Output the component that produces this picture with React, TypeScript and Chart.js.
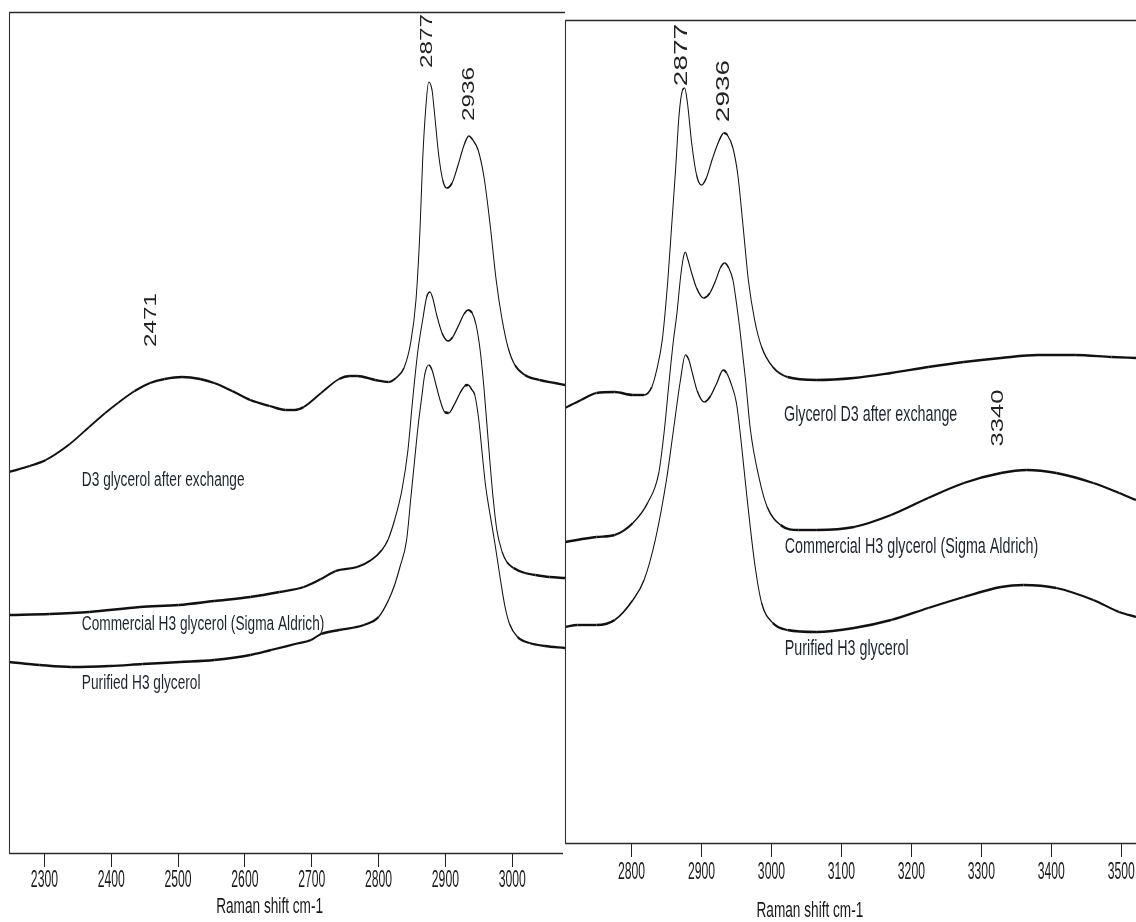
import React, { useEffect, useRef } from "react";
import { Chart, registerables } from "chart.js";

Chart.register(...registerables);

// ---------- DATA (Raman shift cm-1, intensity in arbitrary units) ----------
const leftTicks = [2300, 2400, 2500, 2600, 2700, 2800, 2900, 3000];
const rightTicks = [2800, 2900, 3000, 3100, 3200, 3300, 3400, 3500];

const leftD3: [number, number][] = [
  [2247, 381], [2278, 387], [2302, 393], [2338, 409], [2367, 426], [2391, 440], [2410, 450],
  [2435, 462], [2458, 470], [2480, 474], [2506, 476], [2533, 474], [2554, 470], [2581, 462],
  [2608, 453], [2637, 447], [2661, 443], [2675, 443], [2688, 446], [2714, 460], [2741, 474],
  [2757, 477], [2768, 477], [2795, 473], [2815, 471], [2826, 475], [2838, 485], [2848, 510],
  [2856, 553], [2862, 623], [2866, 693], [2871, 748], [2875, 771], [2880, 763], [2884, 738],
  [2890, 698], [2896, 673], [2902, 665], [2910, 670], [2919, 688], [2928, 708], [2935, 717],
  [2941, 713], [2949, 703], [2958, 675], [2967, 628], [2976, 573], [2985, 533], [2994, 505],
  [3004, 488], [3019, 478], [3041, 473], [3064, 470], [3079, 468],
];

const leftCommercial: [number, number][] = [
  [2247, 238], [2308, 239], [2367, 241], [2443, 246], [2501, 248], [2554, 252], [2608, 256],
  [2652, 261], [2688, 266], [2714, 274], [2736, 282], [2768, 286], [2789, 293], [2805, 303],
  [2814, 313], [2824, 333], [2835, 363], [2844, 403], [2851, 453], [2859, 503], [2866, 533],
  [2872, 556], [2877, 561], [2881, 555], [2887, 538], [2895, 520], [2904, 512], [2911, 516],
  [2920, 528], [2928, 539], [2934, 543], [2940, 540], [2946, 528], [2952, 503], [2958, 463],
  [2964, 413], [2971, 358], [2977, 323], [2985, 301], [2992, 291], [3002, 285], [3019, 280],
  [3035, 278], [3056, 276], [3079, 275],
];

const leftPurified: [number, number][] = [
  [2247, 191], [2293, 188], [2340, 186], [2398, 187], [2447, 189], [2503, 191], [2554, 193],
  [2608, 198], [2639, 203], [2675, 209], [2699, 213], [2714, 219], [2741, 223], [2778, 228],
  [2800, 236], [2815, 253], [2824, 268], [2832, 286], [2842, 313], [2848, 353], [2854, 393],
  [2859, 426], [2865, 458], [2869, 478], [2875, 488], [2880, 483], [2886, 468], [2892, 453],
  [2899, 441], [2905, 440], [2913, 448], [2922, 460], [2929, 467], [2934, 468], [2940, 463],
  [2944, 458], [2950, 433], [2955, 400], [2960, 368], [2964, 350], [2969, 330], [2974, 310],
  [2982, 275], [2989, 247], [2996, 229], [3008, 216], [3026, 210], [3049, 207], [3079, 205],
];

const rightD3: [number, number][] = [
  [2705, 435], [2728, 443], [2750, 450], [2776, 451], [2802, 448], [2818, 448], [2829, 456],
  [2836, 473], [2844, 503], [2852, 563], [2857, 613], [2863, 673], [2868, 728], [2873, 753],
  [2876, 755], [2880, 740], [2886, 700], [2893, 668], [2900, 658], [2907, 665], [2916, 685],
  [2925, 702], [2932, 710], [2937, 708], [2945, 695], [2952, 668], [2960, 613], [2967, 563],
  [2976, 523], [2986, 496], [3002, 476], [3023, 466], [3065, 463], [3118, 465], [3171, 470],
  [3224, 476], [3275, 481], [3328, 485], [3381, 488], [3434, 488], [3486, 486], [3521, 485],
];

const rightCommercial: [number, number][] = [
  [2705, 301], [2750, 306], [2776, 308], [2802, 320], [2823, 340], [2839, 370], [2847, 413],
  [2854, 463], [2860, 503], [2865, 530], [2870, 565], [2874, 585], [2877, 591], [2880, 585],
  [2886, 570], [2893, 555], [2903, 545], [2912, 550], [2920, 562], [2927, 575], [2933, 580],
  [2939, 575], [2945, 563], [2950, 540], [2955, 513], [2963, 463], [2970, 413], [2983, 363],
  [2994, 336], [3013, 318], [3039, 313], [3065, 313], [3118, 316], [3171, 328], [3224, 345],
  [3275, 360], [3328, 370], [3365, 373], [3407, 370], [3460, 360], [3497, 350], [3521, 343],
];

const rightPurified: [number, number][] = [
  [2705, 216], [2723, 218], [2750, 218], [2776, 223], [2802, 243], [2818, 263], [2834, 303],
  [2850, 363], [2860, 413], [2870, 463], [2877, 488], [2882, 483], [2887, 470], [2894, 452],
  [2904, 441], [2913, 447], [2922, 460], [2931, 473], [2936, 470], [2942, 460], [2950, 440],
  [2956, 406], [2965, 346], [2976, 280], [2986, 240], [3002, 220], [3023, 213], [3065, 211],
  [3118, 215], [3171, 223], [3224, 235], [3275, 246], [3328, 256], [3360, 258], [3407, 255],
  [3460, 243], [3497, 231], [3521, 226],
];

const leftSeriesNames = ["D3 glycerol after exchange", "Commercial H3 glycerol (Sigma Aldrich)", "Purified H3 glycerol"];
const rightSeriesNames = ["Glycerol D3 after exchange", "Commercial H3 glycerol (Sigma Aldrich)", "Purified H3 glycerol"];
const axisTitle = "Raman shift cm-1";

// annotation anchors in data units [shift, intensity]
const leftNameAnchors: [number, number][] = [[2356, 373], [2356, 229], [2356, 170]];
const rightNameAnchors: [number, number][] = [[3018, 428], [3019, 296], [3019, 194]];
const leftPeaks: [string, number, number][] = [["2877", 2874, 812], ["2936", 2936, 759], ["2471", 2461, 533]];
const rightPeaks: [string, number, number][] = [["2877", 2873, 788], ["2936", 2933, 752], ["3340", 3325, 425]];

// ---------- rendering ----------
const FONT = '"Liberation Sans", Arial, sans-serif';

function drawText(
  ctx: CanvasRenderingContext2D,
  text: string,
  x: number,
  y: number,
  size: number,
  sx: number,
  align: CanvasTextAlign,
  color: string,
  rotate = false
) {
  ctx.save();
  ctx.translate(x, y);
  if (rotate) ctx.rotate(-Math.PI / 2);
  ctx.scale(sx, 1);
  ctx.font = `${size}px ${FONT}`;
  ctx.textAlign = align;
  ctx.textBaseline = "middle";
  ctx.fillStyle = color;
  ctx.fillText(text, 0, 0);
  ctx.restore();
}

type PanelSpec = {
  series: [number, number][][];
  names: string[];
  nameAnchors: [number, number][];
  peaks: [string, number, number][];
  ticks: number[];
  xMin: number;
  xMax: number;
  yMax: number;
  pad: { left: number; top: number; right: number };
  axisBottom: number;
  height: number;
  width: number;
  tickLabelOffset: number;
  titleOffset: number;
  titleShift: number;
  nameSize: number;
  nameSx: number;
  peakSize: number;
  peakSx: number;
  isLeft: boolean;
};

function buildConfig(p: PanelSpec): any {
  const framePlugin = {
    id: "frame" + (p.isLeft ? "L" : "R"),
    afterDraw(chart: any) {
      const ctx = chart.ctx as CanvasRenderingContext2D;
      const a = chart.chartArea;
      const xs = chart.scales.x;
      const ys = chart.scales.y;
      ctx.save();
      ctx.strokeStyle = "#2a2a2a";
      ctx.lineWidth = 1.6;
      ctx.beginPath();
      ctx.moveTo(a.left, a.top + 0.5);
      ctx.lineTo(a.right, a.top + 0.5);
      ctx.moveTo(a.left, a.bottom + 0.5);
      ctx.lineTo(p.isLeft ? a.right - 2 : a.right, a.bottom + 0.5);
      ctx.stroke();
      ctx.lineWidth = 1.1;
      ctx.strokeStyle = "#333";
      ctx.beginPath();
      ctx.moveTo(a.left + 0.5, a.top);
      ctx.lineTo(a.left + 0.5, a.bottom + 1);
      ctx.stroke();
      ctx.restore();

      for (const t of p.ticks) {
        const px = xs.getPixelForValue(t);
        drawText(ctx, String(t), px, a.bottom + p.tickLabelOffset, 23, 0.53, "center", "#1a1a1a");
      }
      drawText(ctx, axisTitle, xs.getPixelForValue(p.titleShift), a.bottom + p.titleOffset, 22, 0.62, "center", "#1a1a1a");

      p.names.forEach((n, i) => {
        const [sx, sy] = p.nameAnchors[i];
        drawText(ctx, n, xs.getPixelForValue(sx), ys.getPixelForValue(sy), p.nameSize, p.nameSx, "left", "#1d2431");
      });
      p.peaks.forEach(([txt, sx, sy], i) => {
        const size = i === 2 ? 16 : p.peakSize;
        drawText(ctx, txt, xs.getPixelForValue(sx), ys.getPixelForValue(sy), size, p.peakSx, "center", "#222", true);
      });
    },
  };

  return {
    type: "line",
    data: {
      datasets: p.series.map((s) => ({
        data: s.map(([x, y]) => ({ x, y })),
        borderColor: "#111",
        borderWidth: 1.8,
        pointRadius: 0,
        fill: false,
        cubicInterpolationMode: "monotone",
        segment: {
          borderWidth: (ctx: any) => {
            const dx = Math.abs(ctx.p1.x - ctx.p0.x);
            const dy = Math.abs(ctx.p1.y - ctx.p0.y);
            const c = dx / Math.max(1e-6, Math.hypot(dx, dy));
            return 1.0 + 1.4 * c * c;
          },
        },
      })),
    },
    options: {
      animation: false,
      responsive: false,
      maintainAspectRatio: false,
      events: [],
      layout: { padding: { left: p.pad.left, top: p.pad.top, right: p.pad.right, bottom: 0 } },
      plugins: { legend: { display: false }, tooltip: { enabled: false }, title: { display: false } },
      scales: {
        x: {
          type: "linear",
          min: p.xMin,
          max: p.xMax,
          grid: { display: true, drawOnChartArea: false, drawTicks: true, tickLength: 14, color: "#222", lineWidth: 1 },
          border: { display: false },
          ticks: { display: false },
          afterBuildTicks: (axis: any) => {
            axis.ticks = p.ticks.map((v) => ({ value: v }));
          },
          afterFit: (axis: any) => {
            axis.height = p.height - p.axisBottom;
          },
        },
        y: { display: false, min: 0, max: p.yMax },
      },
    },
    plugins: [framePlugin],
  };
}

function Panel({ spec, left }: { spec: PanelSpec; left: number }) {
  const ref = useRef<HTMLCanvasElement>(null);
  useEffect(() => {
    if (!ref.current) return;
    const chart = new Chart(ref.current, buildConfig(spec));
    return () => chart.destroy();
  }, [spec]);
  return (
    <canvas
      ref={ref}
      width={spec.width}
      height={spec.height}
      style={{ position: "absolute", left, top: 0, width: spec.width, height: spec.height }}
    />
  );
}

const leftSpec: PanelSpec = {
  series: [leftD3, leftCommercial, leftPurified],
  names: leftSeriesNames,
  nameAnchors: leftNameAnchors,
  peaks: leftPeaks,
  ticks: leftTicks,
  xMin: 2247,
  xMax: 3079,
  yMax: 841,
  pad: { left: 9, top: 12, right: 1 },
  axisBottom: 853,
  height: 922,
  width: 566,
  tickLabelOffset: 28,
  titleOffset: 54,
  titleShift: 2637,
  nameSize: 20,
  nameSx: 0.684,
  peakSize: 16,
  peakSx: 1.52,
  isLeft: true,
};

const rightSpec: PanelSpec = {
  series: [rightD3, rightCommercial, rightPurified],
  names: rightSeriesNames,
  nameAnchors: rightNameAnchors,
  peaks: rightPeaks,
  ticks: rightTicks,
  xMin: 2705,
  xMax: 3521,
  yMax: 823,
  pad: { left: 5, top: 20, right: 0 },
  axisBottom: 843,
  height: 922,
  width: 576,
  tickLabelOffset: 30,
  titleOffset: 68,
  titleShift: 3055,
  nameSize: 22,
  nameSx: 0.65,
  peakSize: 17.5,
  peakSx: 1.6,
  isLeft: false,
};

export default function App() {
  return (
    <div style={{ position: "absolute", left: 0, top: 0, width: 1136, height: 922, background: "#fff", overflow: "hidden" }}>
      <Panel spec={leftSpec} left={0} />
      <Panel spec={rightSpec} left={560} />
    </div>
  );
}
